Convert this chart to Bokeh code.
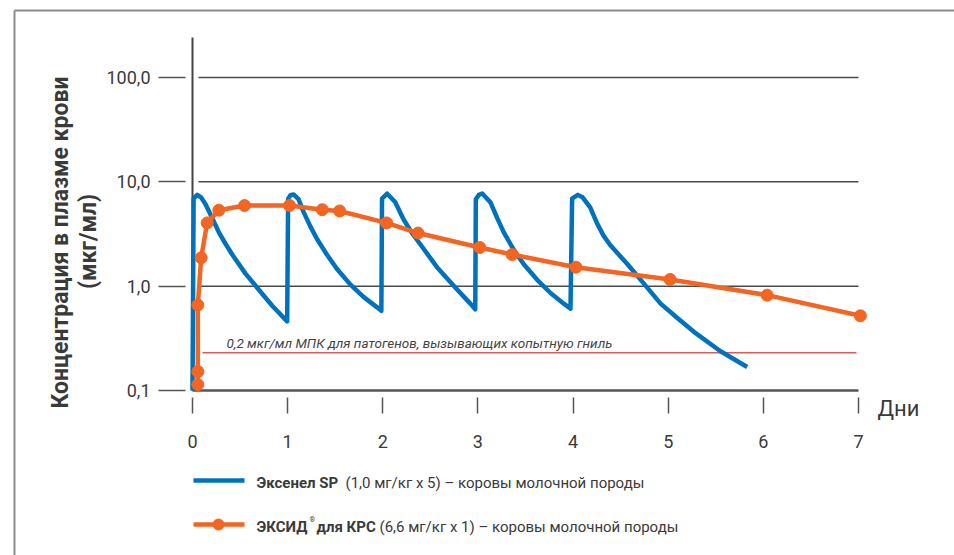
import math
from bokeh.plotting import figure
from bokeh.models import (Range1d, LinearAxis, LogAxis, LogScale, LinearScale, FixedTicker,
                          CustomJSTickFormatter)
from bokeh.core.properties import value
from bokeh.embed import file_html
from bokeh.resources import INLINE

# ---------------- data ----------------
day_ticks = [0, 1, 2, 3, 4, 5, 6, 7]
day_tick_labels = ["0", "1", "2", "3", "4", "5", "6", "7"]
conc_ticks = [0.1, 1.0, 10.0, 100.0]
conc_tick_labels = ["0,1", "1,0", "10,0", "100,0"]

excenel_days = [
    0.000, 0.012, 0.050, 0.090, 0.137, 0.207, 0.277, 0.347, 0.417, 0.557, 0.697, 0.838, 0.995,
    1.005, 1.030, 1.062, 1.114, 1.167, 1.237, 1.307, 1.412, 1.517, 1.658, 1.797, 1.937, 1.985,
    1.992, 2.046, 2.130, 2.220, 2.310, 2.400, 2.570, 2.750, 2.920, 2.972,
    2.978, 3.010, 3.045, 3.132, 3.203, 3.272, 3.377, 3.482, 3.623, 3.763, 3.903, 3.973,
    3.990, 4.050, 4.100, 4.180, 4.250, 4.320, 4.390, 4.570, 4.740, 4.920, 5.090, 5.270,
    5.550, 5.830]
excenel_conc = [
    0.10, 6.9, 7.5, 7.1, 6.1, 4.5, 3.28, 2.55, 2.01, 1.32, 0.925, 0.65, 0.46,
    6.86, 7.45, 7.57, 6.82, 5.15, 3.76, 2.85, 2.01, 1.47, 1.04, 0.79, 0.63, 0.58,
    6.9, 7.7, 6.4, 4.33, 3.2, 2.48, 1.52, 1.0, 0.68, 0.60,
    6.82, 7.5, 7.73, 6.36, 4.49, 3.28, 2.23, 1.62, 1.15, 0.86, 0.68, 0.61,
    6.9, 7.5, 7.1, 5.7, 4.04, 3.05, 2.48, 1.63, 1.07, 0.68, 0.50, 0.365,
    0.238, 0.168]

excid_days = [0.056, 0.056, 0.056, 0.091, 0.154, 0.277, 0.547, 1.02, 1.364,
              1.546, 2.04, 2.37, 3.02, 3.36, 4.03, 5.02, 6.04, 7.02]
excid_conc = [0.114, 0.152, 0.66, 1.87, 4.04, 5.34, 5.93, 5.93, 5.41,
              5.26, 4.04, 3.23, 2.35, 2.01, 1.52, 1.16, 0.82, 0.52]

mic_level = 0.23
mic_label = "0,2 мкг/мл МПК для патогенов, вызывающих копытную гниль"
y_title = ["Концентрация в плазме крови", "(мкг/мл)"]
x_title = "Дни"
legend_excenel = ["Эксенел SP", "(1,0 мг/кг x 5) – коровы молочной породы"]
legend_excid = ["ЭКСИД", "®", "для КРС", "(6,6 мг/кг x 1) – коровы молочной породы"]

# ---------------- layout constants (screen px) ----------------
W, H = 954, 555
X0 = 192.0          # screen x of day 0
PX_DAY = 95.14
Y01 = 390.0         # screen y of 0.1
PX_DEC = 104.33

def day_at(sx):
    return (sx - X0) / PX_DAY

def conc_at(sy):
    return 10 ** (-1 + (Y01 - sy) / PX_DEC)

FONT = "Roboto"
TXT = "#3a3a3a"
BLUE = "#0072BC"
ORANGE = "#F26522"
GRID = "#4a4a4a"

p = figure(width=W, height=H, output_backend="svg", toolbar_location=None,
           x_range=Range1d(day_at(0), day_at(W)),
           y_range=Range1d(conc_at(H), conc_at(0)),
           y_axis_type="log", x_axis_location=None, y_axis_location=None,
           min_border=0, outline_line_color=None,
           background_fill_color="white", border_fill_color="white")
p.y_scale = LogScale()
p.grid.visible = False
p.extra_x_ranges = {"px": Range1d(0, W)}
p.extra_y_ranges = {"py": Range1d(H, 0)}
p.extra_x_scales = {"px": LinearScale()}
p.extra_y_scales = {"py": LinearScale()}

# ---------------- axes (fixed location) ----------------
yax = LogAxis(fixed_location=day_at(185), ticker=FixedTicker(ticks=conc_ticks),
              formatter=CustomJSTickFormatter(
                  args=dict(vals=conc_ticks, labs=conc_tick_labels),
                  code="""
const i = vals.findIndex(t => Math.abs(t - tick) < 1e-6 * Math.max(1, tick));
return i >= 0 ? labs[i] : '';
"""))
yax.axis_line_color = None
yax.major_tick_in = 0
yax.major_tick_out = 27
yax.major_tick_line_color = "#555555"
yax.major_tick_line_width = 1.5
yax.minor_tick_line_color = None
yax.major_label_standoff = 8
yax.major_label_text_font = FONT
yax.major_label_text_font_size = "18px"
yax.major_label_text_color = TXT
p.add_layout(yax, "left")

xax = LinearAxis(fixed_location=conc_at(397), ticker=FixedTicker(ticks=day_ticks),
                 major_label_overrides={t: l for t, l in zip(day_ticks, day_tick_labels)})
xax.axis_line_color = None
xax.major_tick_in = 0
xax.major_tick_out = 16
xax.major_tick_line_color = "#555555"
xax.major_tick_line_width = 1.5
xax.minor_tick_line_color = None
xax.major_label_standoff = 21
xax.major_label_text_font = FONT
xax.major_label_text_font_size = "18px"
xax.major_label_text_color = TXT
p.add_layout(xax, "below")

# ---------------- grid, axis line, baseline ----------------
grid_vals = conc_ticks[1:]
p.segment(x0=[day_at(198)] * len(grid_vals), y0=grid_vals,
          x1=[day_ticks[-1]] * len(grid_vals), y1=grid_vals,
          line_color=GRID, line_width=1.5)
p.segment(x0=[day_ticks[0]], y0=[conc_ticks[0]], x1=[day_ticks[-1]], y1=[conc_ticks[0]],
          line_color="#555555", line_width=2.5)
p.segment(x0=[day_ticks[0]], y0=[conc_ticks[0]], x1=[day_ticks[0]], y1=[conc_at(37)],
          line_color="#444444", line_width=2)

# MIC line
p.segment(x0=[day_at(202)], y0=[mic_level], x1=[day_at(856)], y1=[mic_level],
          line_color="#DD5A5A", line_width=1.5)
p.text(x=[226], y=[350], text=[mic_label], x_range_name="px", y_range_name="py",
       text_font=value(FONT), text_font_style="italic", text_font_size="13.5px",
       text_color="#444444", text_align="left", text_baseline="bottom")

# ---------------- series ----------------
p.line(excenel_days, excenel_conc, line_color=BLUE, line_width=4.5, line_join="round")
p.line(excid_days, excid_conc, line_color=ORANGE, line_width=4.5, line_join="round")
p.scatter(excid_days, excid_conc, size=12, fill_color=ORANGE, line_color=ORANGE)

# ---------------- titles ----------------
p.text(x=[60, 88], y=[242, 241], text=y_title, angle=math.pi / 2,
       x_range_name="px", y_range_name="py",
       text_font=value(FONT), text_font_style="bold", text_font_size="23px",
       text_color=TXT, text_align="center", text_baseline="middle")
p.text(x=[877], y=[408], text=[x_title], x_range_name="px", y_range_name="py",
       text_font=value(FONT), text_font_size="22px", text_color=TXT,
       text_align="left", text_baseline="middle")

# ---------------- legend ----------------
p.segment(x0=[193], y0=[480], x1=[244], y1=[480], x_range_name="px", y_range_name="py",
          line_color=BLUE, line_width=4.5)
p.segment(x0=[193], y0=[524], x1=[244], y1=[524], x_range_name="px", y_range_name="py",
          line_color=ORANGE, line_width=4.5)
p.scatter(x=[218], y=[524], x_range_name="px", y_range_name="py", size=11,
          fill_color=ORANGE, line_color=ORANGE)
p.text(x=[256, 256, 316], y=[482, 526, 526],
       text=[legend_excenel[0], legend_excid[0], legend_excid[2]],
       x_range_name="px", y_range_name="py",
       text_font=value(FONT), text_font_style="bold", text_font_size="15px",
       text_color=TXT, text_align="left", text_baseline="middle")
p.text(x=[309], y=[519], text=[legend_excid[1]], x_range_name="px", y_range_name="py",
       text_font=value(FONT), text_font_size="7px",
       text_color=TXT, text_align="left", text_baseline="middle")
p.text(x=[345, 379], y=[482, 526], text=[legend_excenel[1], legend_excid[3]],
       x_range_name="px", y_range_name="py",
       text_font=value(FONT), text_font_size="15px",
       text_color=TXT, text_align="left", text_baseline="middle")

# ---------------- outer frame ----------------
p.segment(x0=[14, 14], y0=[10, 10], x1=[954, 14], y1=[10, 555],
          x_range_name="px", y_range_name="py", line_color="#8c8c8c", line_width=2)

open("out.html", "w").write(file_html(p, INLINE))
